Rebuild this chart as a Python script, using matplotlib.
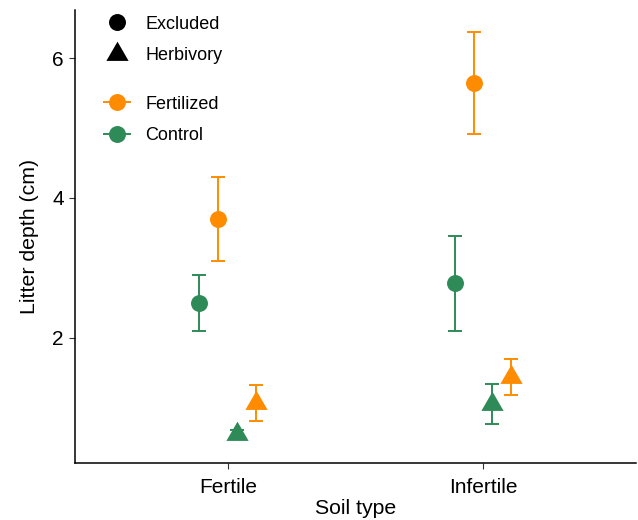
import matplotlib.pyplot as plt
from matplotlib.lines import Line2D

plt.rcParams['font.family'] = ['Liberation Sans', 'DejaVu Sans']

# Litter depth (cm) per soil type: mean, lower and upper error bar
soil_types = ["Fertile", "Infertile"]

control_excluded = [2.50, 2.78]
control_excluded_lo = [2.10, 2.10]
control_excluded_hi = [2.89, 3.45]

fert_excluded = [3.70, 5.65]
fert_excluded_lo = [3.10, 4.92]
fert_excluded_hi = [4.30, 6.38]

control_herb = [0.62, 1.05]
control_herb_lo = [0.55, 0.76]
control_herb_hi = [0.68, 1.34]

fert_herb = [1.06, 1.44]
fert_herb_lo = [0.80, 1.18]
fert_herb_hi = [1.32, 1.70]

ORANGE = "#FF8C00"
GREEN = "#2E8B57"
# equilateral triangle centred on its centroid (like R's pch 17)
TRI = [(0, 0.667), (-0.577, -0.333), (0.577, -0.333), (0, 0.667)]

fig = plt.figure(figsize=(6.38, 5.2), dpi=100)
ax = fig.add_axes([0.117, 0.109, 0.880, 0.872])

series = [
    (control_excluded, control_excluded_lo, control_excluded_hi, GREEN, "o", 12.2),
    (fert_excluded, fert_excluded_lo, fert_excluded_hi, ORANGE, "o", 12.2),
    (control_herb, control_herb_lo, control_herb_hi, GREEN, TRI, 18.5),
    (fert_herb, fert_herb_lo, fert_herb_hi, ORANGE, TRI, 18.5),
]
dodge = [-0.111, -0.037, 0.037, 0.111]

for (mean, lo, hi, col, mk, ms), off in zip(series, dodge):
    xs = [i + 1 + off for i in range(len(soil_types))]
    err = [[m - l for m, l in zip(mean, lo)], [h - m for m, h in zip(mean, hi)]]
    ax.errorbar(xs, mean, yerr=err, fmt="none", ecolor=col, elinewidth=1.4,
                capsize=4.7, capthick=1.4, zorder=2)
    ax.plot(xs, mean, linestyle="none", marker=mk, markersize=ms,
            color=col, markeredgewidth=0, zorder=3)

ax.set_xlim(0.4, 2.6)
ax.set_ylim(0.2, 6.69)
ax.set_xticks([1, 2])
ax.set_xticklabels(soil_types)
ax.set_yticks([2, 4, 6])
ax.spines['top'].set_visible(False)
ax.spines['right'].set_visible(False)
for s in ['left', 'bottom']:
    ax.spines[s].set_linewidth(1.1)
ax.tick_params(labelsize=15, length=4.3, width=0.8, color="#333333",
               labelcolor="black", pad=3.5)
ax.tick_params(axis="x", pad=6)
ax.set_xlabel("Soil type", fontsize=15.3, labelpad=1.5)
ax.set_ylabel("Litter depth (cm)", fontsize=15.3, labelpad=9.5)

shape_handles = [
    Line2D([], [], linestyle="none", marker="o", markersize=12.2, color="black",
           markeredgewidth=0),
    Line2D([], [], linestyle="none", marker=TRI, markersize=18.5, color="black",
           markeredgewidth=0),
]
leg1 = fig.legend(shape_handles, ["Excluded", "Herbivory"], loc="upper left",
                  bbox_to_anchor=(0.163, 0.970), frameon=False, fontsize=13,
                  handlelength=1.45, handletextpad=0.83, labelspacing=0.8,
                  borderpad=0, borderaxespad=0)

color_handles = [
    Line2D([], [], color=ORANGE, linewidth=1.4, marker="o", markersize=12.2,
           markeredgewidth=0),
    Line2D([], [], color=GREEN, linewidth=1.4, marker="o", markersize=12.2,
           markeredgewidth=0),
]
leg2 = fig.legend(color_handles, ["Fertilized", "Control"], loc="upper left",
                  bbox_to_anchor=(0.163, 0.816), frameon=False, fontsize=13,
                  handlelength=1.45, handletextpad=0.83, labelspacing=0.8,
                  borderpad=0, borderaxespad=0)

fig.savefig("out.png", dpi=100)
